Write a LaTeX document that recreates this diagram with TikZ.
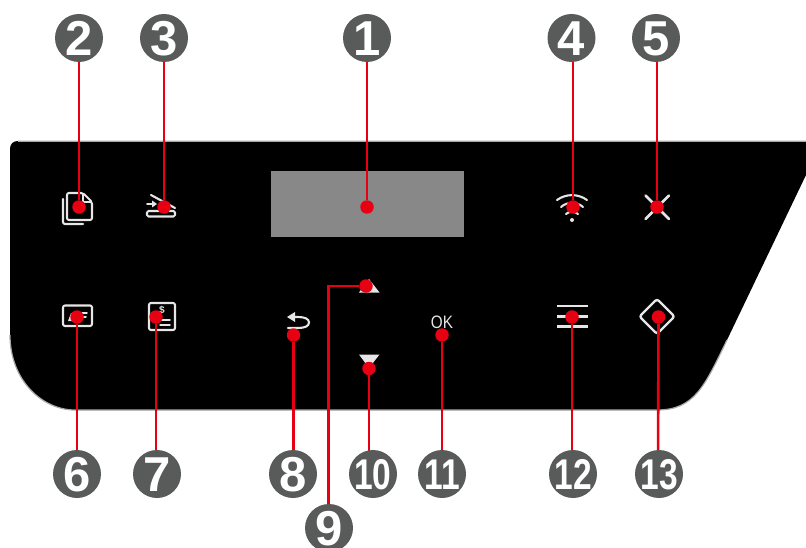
\documentclass[tikz,border=0pt]{standalone}
\usepackage{fontspec}
\usepackage{graphicx}
\setmainfont{Liberation Sans}
\definecolor{badge}{HTML}{595B5A}
\definecolor{wire}{HTML}{E60012}
\definecolor{icon}{HTML}{E6E6E6}
\definecolor{screen}{HTML}{888888}
\definecolor{edge}{HTML}{A8A8A8}
\newcommand{\badgetxt}[1]{\raisebox{-17.5pt}[0pt][0pt]{\makebox[0pt]{\fontsize{49}{49}\selectfont\bfseries #1}}}
\newcommand{\badgetwo}[1]{\raisebox{-15.5pt}[0pt][0pt]{\makebox[0pt]{\scalebox{0.78}[1]{\fontsize{43}{43}\selectfont\bfseries #1}}}}
\tikzset{
  badgenode/.style={circle,fill=badge,minimum size=48pt,inner sep=0pt,text=white},
  dotnode/.style={circle,fill=wire,minimum size=13.5pt,inner sep=0pt},
  wireline/.style={draw=wire,line width=2.6pt},
  iconline/.style={draw=icon,line width=2.1pt,line cap=round,line join=round},
  iconfill/.style={fill=icon,draw=none}
}
\begin{document}
\begin{tikzpicture}[x=1pt,y=-1pt]
\useasboundingbox (0,0) rectangle (806,548);
\clip (0,0) rectangle (806,548);
% panel
\fill[black] (10,149) .. controls (10,144) and (13,141) .. (18,141) -- (806,141) -- (806,175) -- (727,340) .. controls (705,385) and (695,410) .. (657,410) -- (75,410) .. controls (42,410) and (10,380) .. (10,335) -- cycle;
\draw[edge,line width=0.5pt] (18,141) -- (806,141);
\draw[edge,line width=1.2pt] (727,340) .. controls (705,385) and (695,410) .. (657,410) -- (75,410) .. controls (42,410) and (10,380) .. (10,335);
% display
\node[fill=screen,minimum width=193pt,minimum height=66pt,inner sep=0pt] (lcd) at (367.5,204) {};
% icon 2
\draw[iconline,rounded corners=2pt] (83,193) -- (67,193) -- (67,220) -- (92,220) -- (92,202) -- cycle;
\draw[iconline,line width=1.5pt] (83,194) -- (83,202) -- (91,202);
\draw[iconline,rounded corners=2pt] (63,199) -- (63,224) -- (83,224);
% icon 3
\draw[iconline,rounded corners=1.5pt] (147,211) rectangle (175,216.5);
\draw[iconline] (151,195) -- (175,208);
\draw[iconline,line width=1.6pt] (147,204) -- (153,204);
\fill[icon] (157,204) -- (152,200.5) -- (152,207.5) -- cycle;
% icon 6
\draw[iconline,rounded corners=2pt] (63,305.5) rectangle (92,326);
\fill[icon] (68,321) -- (71,313) -- (76,313) -- (73,321) -- cycle;
\draw[iconline,line width=1.5pt] (82,313) -- (87,313);
\draw[iconline,line width=1.5pt] (82,317) -- (86,317);
% icon 7
\draw[iconline,rounded corners=2pt] (149,303) rectangle (175,330);
\node[text=icon,inner sep=0pt,font=\fontsize{10}{10}\selectfont\bfseries] (dollar) at (162,310.5) {\$};
\draw[iconline,line width=1.5pt] (160,320) -- (170,320);
\draw[iconline,line width=1.5pt] (160,325) -- (170,325);
% icon 4
\draw[iconline] (557,200) .. controls (566,193.5) and (578,193.5) .. (587,200);
\draw[iconline] (561,207) .. controls (567,201.5) and (577,201.5) .. (583,207);
\draw[iconline] (566,214) .. controls (569,211) and (575,211) .. (578,214);
\fill[icon] (572,220) circle (2pt);
% icon 5
\draw[iconline,line width=2.8pt] (645.5,195.5) -- (669,219);
\draw[iconline,line width=2.8pt] (669,195.5) -- (645.5,219);
% icon 8
\fill[icon] (287,317) -- (295,312) -- (295,322) -- cycle;
\draw[iconline] (293,317) -- (298,317) .. controls (305,317) and (309,319) .. (309,322.5) .. controls (309,326) and (305,328) .. (298,328) -- (288,328);
% triangles
\fill[icon] (369,279) -- (379.5,292.5) -- (359,292.5) -- cycle;
\fill[icon] (359,354.5) -- (379.5,354.5) -- (369,368) -- cycle;
% OK
\node[text=icon,inner sep=0pt,font=\fontsize{18}{18}\selectfont] (oktext) at (442,322) {\scalebox{0.85}[1]{OK}};
% icon 12
\draw[iconline,line width=2.8pt,line cap=butt] (557,306) -- (588,306);
\draw[iconline,line width=2.8pt,line cap=butt] (557,316.5) -- (588,316.5);
\draw[iconline,line width=2.8pt,line cap=butt] (557,326.5) -- (588,326.5);
% icon 13
\draw[iconline,line width=2.4pt,rounded corners=2.5pt] (657,299) -- (674.5,316.5) -- (657,334) -- (639.5,316.5) -- cycle;
% dots
\node[dotnode] (d1) at (367,207) {};
\node[dotnode] (d2) at (79,207) {};
\node[dotnode] (d3) at (164,207) {};
\node[dotnode] (d4) at (573,207) {};
\node[dotnode] (d5) at (657,207) {};
\node[dotnode] (d6) at (77,317) {};
\node[dotnode] (d7) at (156,317) {};
\node[dotnode] (d8) at (293.5,335) {};
\node[dotnode] (d9) at (366,286) {};
\node[dotnode] (d10) at (369,368.5) {};
\node[dotnode] (d11) at (442,335) {};
\node[dotnode] (d12) at (572,317) {};
\node[dotnode] (d13) at (658.5,317) {};
\coordinate (b1w) at (367,38);
\coordinate (b2w) at (79,38);
\coordinate (b3w) at (164,38);
\coordinate (b4w) at (573,38);
\coordinate (b5w) at (657,38);
\coordinate (b6w) at (77,474);
\coordinate (b7w) at (156,474);
\coordinate (b8w) at (293.5,474);
\coordinate (b9w) at (328.5,528);
\coordinate (b10w) at (369,474);
\coordinate (b11w) at (442,474);
\coordinate (b12w) at (572,474);
\coordinate (b13w) at (658,474);
\foreach \n in {1,2,3,4,5,6,7,8,10,11,12,13}{\draw[wireline] (d\n) -- (b\n w);}
\draw[wireline] (d9) -| (b9w);
\node[badgenode] (b1) at (367,38) {\badgetxt{1}};
\node[badgenode] (b2) at (79,38) {\badgetxt{2}};
\node[badgenode] (b3) at (164,38) {\badgetxt{3}};
\node[badgenode] (b4) at (571.5,38) {\badgetxt{4}};
\node[badgenode] (b5) at (656,38) {\badgetxt{5}};
\node[badgenode] (b6) at (77,474) {\badgetxt{6}};
\node[badgenode] (b7) at (157,474) {\badgetxt{7}};
\node[badgenode] (b8) at (293,474) {\badgetxt{8}};
\node[badgenode] (b9) at (329,528) {\badgetxt{9}};
\node[badgenode] (b10) at (373,474) {\badgetwo{10}};
\node[badgenode] (b11) at (442,474) {\badgetwo{11}};
\node[badgenode] (b12) at (573,474) {\badgetwo{12}};
\node[badgenode] (b13) at (659,474) {\badgetwo{13}};
\end{tikzpicture}
\end{document}
